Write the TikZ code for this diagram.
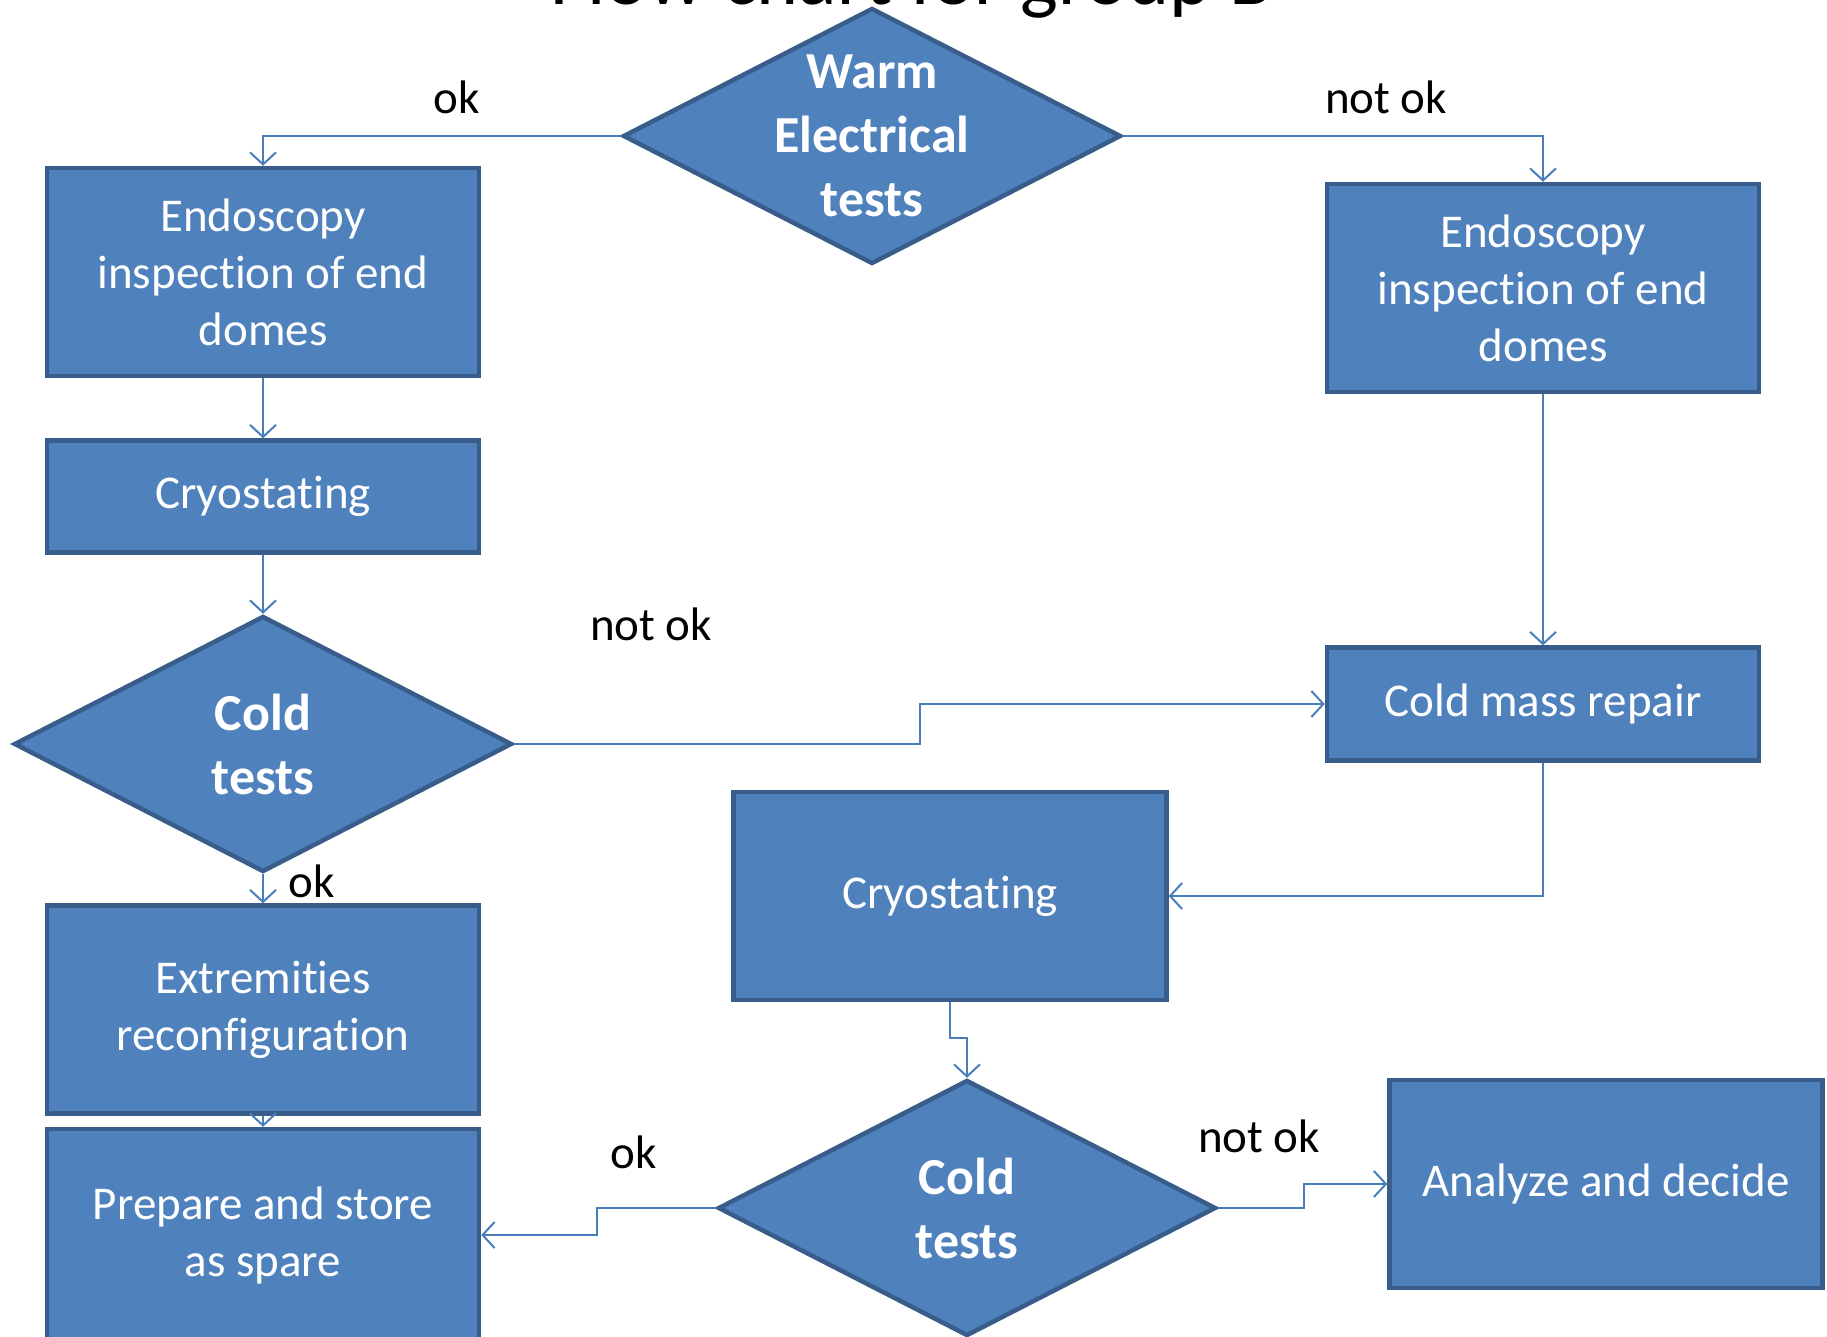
\documentclass[tikz,border=0pt]{standalone}
\usepackage{fontspec}
\setmainfont{Carlito}[Ligatures=CommonOff]
\usetikzlibrary{
  arrows.meta,
  positioning,
  shapes.geometric
}
\definecolor{caixaazul}{HTML}{4F81BD}
\definecolor{bordaazul}{HTML}{385D8A}
\definecolor{linhaazul}{HTML}{4A7EBB}

\begin{document}
\begin{tikzpicture}[
    x=1pt, y=-1pt,
    >={Straight Barb[length=12pt,width=26pt]},
    etapa/.style={
        draw=bordaazul,
        fill=caixaazul,
        line width=4.5pt,
        minimum width=432pt,
        minimum height=208pt,
        align=center,
        text=white,
        font=\fontsize{47}{57}\selectfont
    },
    decisao/.style={
        diamond,
        draw=bordaazul,
        fill=caixaazul,
        line width=4.5pt,
        minimum width=498pt,
        minimum height=256pt,
        inner sep=0pt
    },
    rotulo/.style={
        text=white,
        align=center,
        font=\fontsize{52}{64}\selectfont\bfseries
    },
    resposta/.style={
        font=\fontsize{47}{57}\selectfont
    },
    seta/.style={
        ->,
        line width=2pt,
        linhaazul
    }
]

\useasboundingbox (0,0) rectangle (1827,1337);
\clip (0,0) rectangle (1827,1337);

% ============================================================
% TITULO
% ============================================================

\node[anchor=base, font=\fontsize{80}{96}\selectfont] (titulo) at (912,5) {Flow chart for group B};

% ============================================================
% ETAPAS
% ============================================================

\node[decisao, label={[rotulo]center:{Warm\\Electrical\\tests}}] (warm) at (872,136) {};

\node[etapa] (endoL) at (263,272) {Endoscopy\\inspection of end\\domes};
\node[etapa, minimum height=112pt, below=60pt of endoL] (cryoL) {Cryostating};
\node[decisao, label={[rotulo]center:{Cold\\tests}}, below=59pt of cryoL] (coldL) {};
\node[etapa, below=29pt of coldL] (extrem) {Extremities\\reconfiguration};
\node[etapa, minimum height=212pt, below=11pt of extrem] (spare) {Prepare and store\\as spare};

\node[etapa] (endoR) at (1543,288) {Endoscopy\\inspection of end\\domes};
\node[etapa, minimum height=113pt, below=251pt of endoR] (repair) {Cold mass repair};

\node[etapa, minimum width=433pt] (cryoM) at (950,896) {Cryostating};
\node[decisao, label={[rotulo]center:{Cold\\tests}}] (coldB) at (967,1208) {};
\node[etapa, minimum width=433pt] (analyze) at (1606,1184) {Analyze and decide};

% ============================================================
% SETAS
% ============================================================

\draw[seta] (warm.west) -| (endoL.north);
\draw[seta] (warm.east) -| (endoR.north);
\draw[seta] (endoL) -- (cryoL);
\draw[seta] (cryoL) -- (coldL);
\draw[seta] (coldL) -- (extrem);
\draw[seta] (extrem) -- (spare);
\draw[seta] (coldL.east) -- ++(406,0) |- (repair.west);
\draw[seta] (endoR) -- (repair);
\draw[seta] (repair.south) |- (cryoM.east);
\draw[seta] (cryoM.south) -- ++(0,36) -| (coldB.north);
\draw[seta] (coldB.west) -- ++(-119,0) |- (spare.east);
\draw[seta] (coldB.east) -- ++(86,0) |- (analyze.west);

% ============================================================
% RESPOSTAS
% ============================================================

\node[resposta] (okA) at (457,97) {ok};
\node[resposta] (nokA) at (1386,97) {not ok};
\node[resposta] (nokB) at (651,624) {not ok};
\node[resposta] (okB) at (312,881) {ok};
\node[resposta] (okC) at (634,1152) {ok};
\node[resposta] (nokC) at (1259,1136) {not ok};

\end{tikzpicture}
\end{document}
